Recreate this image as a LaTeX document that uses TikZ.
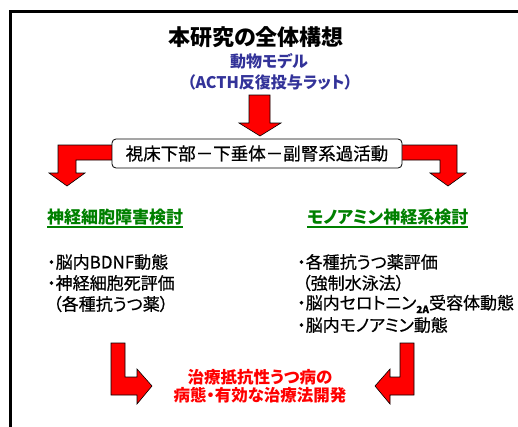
\documentclass[tikz,border=0pt]{standalone}
\usepackage{fontspec}
\setmainfont{Noto Sans CJK JP}[RawFeature=+palt]
\definecolor{modelblue}{RGB}{51,51,153}
\definecolor{headgreen}{RGB}{0,128,0}
\begin{document}
\begin{tikzpicture}[x=1pt,y=-1pt,
  redarrow/.style={fill=red, draw=black, line width=0.6pt, line join=miter},
  txt/.style={inner sep=0pt, font=\fontsize{17}{17}\selectfont\addfontfeature{FakeBold=0.6}},
  lefttxt/.style={txt, anchor=west},
  bluetxt/.style={inner sep=0pt, text=modelblue, font=\fontsize{16}{16}\selectfont\bfseries},
  greentxt/.style={inner sep=0pt, anchor=west, text=headgreen, font=\fontsize{17}{17}\selectfont\bfseries},
  redtxt/.style={inner sep=0pt, text=red, font=\fontsize{16.5}{16.5}\selectfont\bfseries},
  hpabox/.style={draw=black, line width=0.8pt, rounded corners=4pt, fill=white, minimum width=290pt, minimum height=29pt, inner sep=0pt, font=\fontsize{17.5}{17.5}\selectfont\addfontfeature{FakeBold=0.6}}
]
\useasboundingbox (0,0) rectangle (518,426);
\begin{scope}
  \clip (0,0) rectangle (518,426);
  \draw[line width=3pt] (10.5,440) -- (10.5,11) -- (540,11);
\end{scope}

\node[inner sep=0pt, font=\fontsize{22}{22}\selectfont\bfseries] (title) at (256,37) {本研究の全体構想};
\node[bluetxt] (model) at (269,61) {動物モデル};
\node[bluetxt] (rat) at (270,82) {（ACTH反復投与ラット）};

% down arrow
\draw[redarrow] (249,95) -- (270,95) -- (270,123) -- (281,123) -- (260,136) -- (239,123) -- (249,123) -- cycle;

% branch arrows
\draw[redarrow] (150,145) -- (58,145) -- (58,173) -- (49,173) -- (67,186) -- (85,173) -- (76,173) -- (76,160) -- (150,160) -- cycle;
\draw[redarrow] (360,145) -- (457,145) -- (457,173) -- (466,173) -- (448,186) -- (430,173) -- (440,173) -- (440,160) -- (360,160) -- cycle;

\node[hpabox] (hpa) at (257,153.5) {視床下部－下垂体－副腎系過活動};

% headings
\node[greentxt] (neuro) at (47,217) {神経細胞障害検討};
\node[greentxt] (mono) at (307,217) {モノアミン神経系検討};
\draw[headgreen, line width=1.2pt] (neuro.west |- 0,227) -- (neuro.east |- 0,227);
\draw[headgreen, line width=1.2pt] (mono.west |- 0,227) -- (mono.east |- 0,227);

% lists
\node[lefttxt] (l1) at (47,262) {・脳内BDNF動態};
\node[lefttxt] (l2) at (47,283) {・神経細胞死評価};
\node[lefttxt] (l3) at (53,304) {（各種抗うつ薬）};
\node[lefttxt] (r1) at (297,262) {・各種抗うつ薬評価};
\node[lefttxt] (r2) at (302,283) {（強制水泳法）};
\node[lefttxt] (r3) at (297,304) {・脳内セロトニン\raisebox{-4pt}{\fontsize{10}{10}\selectfont\bfseries 2A}受容体動態};
\node[lefttxt] (r4) at (297,325) {・脳内モノアミン動態};

% bottom arrows
\draw[redarrow] (111,343) -- (125,343) -- (125,377) -- (137,377) -- (137,369) -- (152,386) -- (137,404) -- (137,395) -- (111,395) -- cycle;
\draw[redarrow] (414,343) -- (400,343) -- (400,377) -- (390,377) -- (390,369) -- (375,386) -- (390,404) -- (390,395) -- (414,395) -- cycle;

\node[redtxt] (res1) at (260,377) {治療抵抗性うつ病の};
\node[redtxt] (res2) at (260,395) {病態・有効な治療法開発};
\end{tikzpicture}
\end{document}
